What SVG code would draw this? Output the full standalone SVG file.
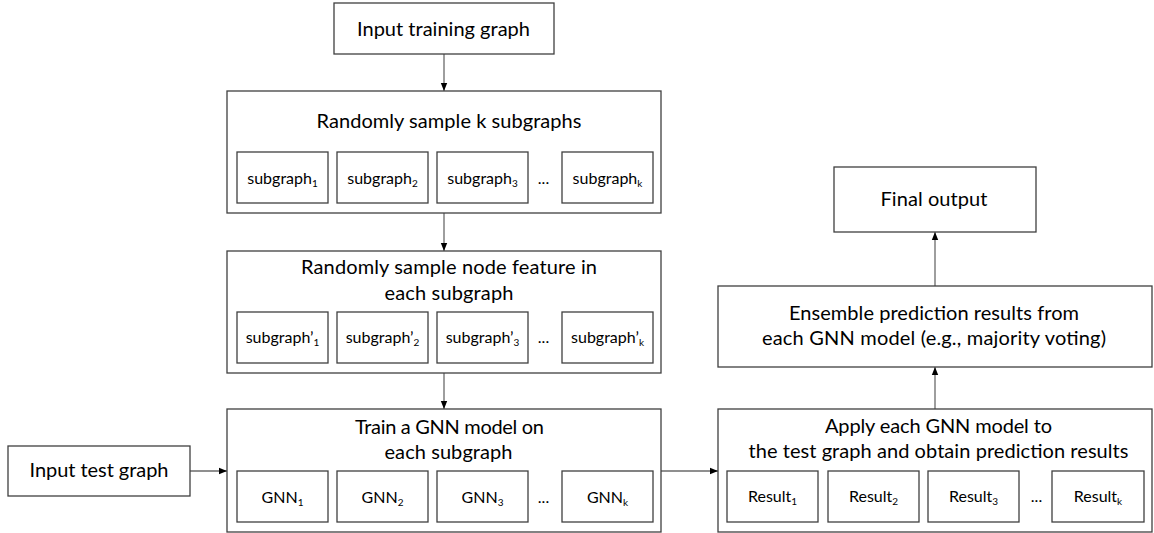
<svg xmlns="http://www.w3.org/2000/svg" width="1154" height="533" viewBox="0 0 1154 533">
<style>
.box{fill:#fff;stroke:#3f3f3f;stroke-width:1.3}
.t{font-family:Lato,"Liberation Sans",sans-serif;font-size:20px;fill:#000;text-anchor:middle}
.s{font-family:Lato,"Liberation Sans",sans-serif;font-size:16px;fill:#000;text-anchor:middle}
.sub{font-size:10px}
.conn{stroke:#6a6a6a;stroke-width:1.3;fill:none;marker-end:url(#ah)}
</style>
<defs>
<marker id="ah" markerUnits="userSpaceOnUse" markerWidth="8" markerHeight="8" viewBox="0 0 8 8" refX="8" refY="4" orient="auto">
<path d="M0,0.8 L8,4 L0,7.2 Z" fill="#000"/>
</marker>
</defs>
<rect width="1154" height="533" fill="#fff"/>

<g id="connectors">
<line class="conn" x1="444" y1="54" x2="444" y2="91"/>
<line class="conn" x1="444" y1="213" x2="444" y2="251"/>
<line class="conn" x1="444" y1="373" x2="444" y2="409"/>
<line class="conn" x1="190" y1="471" x2="227" y2="471"/>
<line class="conn" x1="661" y1="471" x2="718" y2="471"/>
<line class="conn" x1="935" y1="409" x2="935" y2="367"/>
<line class="conn" x1="935" y1="286" x2="935" y2="232"/>
</g>

<g id="input-training">
<rect class="box" x="334" y="3" width="220" height="51"/>
<text class="t" x="443.5" y="36" textLength="173">Input training graph</text>
</g>

<g id="sample-subgraphs">
<rect class="box" x="227" y="91" width="434" height="122"/>
<text class="t" x="449" y="128" textLength="265">Randomly sample k subgraphs</text>
<rect class="box" x="237" y="152" width="91" height="51"/>
<text class="s" x="282.5" y="184">subgraph<tspan class="sub" dy="3">1</tspan></text>
<rect class="box" x="337" y="152" width="91" height="51"/>
<text class="s" x="382.5" y="184">subgraph<tspan class="sub" dy="3">2</tspan></text>
<rect class="box" x="437" y="152" width="91" height="51"/>
<text class="s" x="482.5" y="184">subgraph<tspan class="sub" dy="3">3</tspan></text>
<text class="s" x="543.5" y="184">...</text>
<rect class="box" x="562" y="152" width="91" height="51"/>
<text class="s" x="607.5" y="184">subgraph<tspan class="sub" dy="3">k</tspan></text>
</g>

<g id="sample-features">
<rect class="box" x="227" y="251" width="434" height="122"/>
<text class="t" x="449" y="274" textLength="296">Randomly sample node feature in</text>
<text class="t" x="449" y="300" textLength="129">each subgraph</text>
<rect class="box" x="237" y="312" width="91" height="51"/>
<text class="s" x="282.5" y="343">subgraph’<tspan class="sub" dy="3">1</tspan></text>
<rect class="box" x="337" y="312" width="91" height="51"/>
<text class="s" x="382.5" y="343">subgraph’<tspan class="sub" dy="3">2</tspan></text>
<rect class="box" x="437" y="312" width="91" height="51"/>
<text class="s" x="482.5" y="343">subgraph’<tspan class="sub" dy="3">3</tspan></text>
<text class="s" x="543.5" y="343">...</text>
<rect class="box" x="562" y="312" width="91" height="51"/>
<text class="s" x="607.5" y="343">subgraph’<tspan class="sub" dy="3">k</tspan></text>
</g>

<g id="input-test">
<rect class="box" x="8" y="446" width="182" height="50"/>
<text class="t" x="99" y="477" textLength="139">Input test graph</text>
</g>

<g id="train">
<rect class="box" x="227" y="409" width="434" height="123"/>
<text class="t" x="449.5" y="434" textLength="189">Train a GNN model on</text>
<text class="t" x="448.5" y="459" textLength="128">each subgraph</text>
<rect class="box" x="237" y="471" width="91" height="51"/>
<text class="s" x="282.5" y="503">GNN<tspan class="sub" dy="3">1</tspan></text>
<rect class="box" x="337" y="471" width="91" height="51"/>
<text class="s" x="382.5" y="503">GNN<tspan class="sub" dy="3">2</tspan></text>
<rect class="box" x="437" y="471" width="91" height="51"/>
<text class="s" x="482.5" y="503">GNN<tspan class="sub" dy="3">3</tspan></text>
<text class="s" x="543.5" y="503">...</text>
<rect class="box" x="562" y="471" width="91" height="51"/>
<text class="s" x="607.5" y="503">GNN<tspan class="sub" dy="3">k</tspan></text>
</g>

<g id="apply">
<rect class="box" x="718" y="409" width="434" height="123"/>
<text class="t" x="938.5" y="433" textLength="227">Apply each GNN model to</text>
<text class="t" x="938.5" y="458" textLength="380">the test graph and obtain prediction results</text>
<rect class="box" x="727" y="471" width="91" height="51"/>
<text class="s" x="772.5" y="502">Result<tspan class="sub" dy="3">1</tspan></text>
<rect class="box" x="828" y="471" width="91" height="51"/>
<text class="s" x="873.5" y="502">Result<tspan class="sub" dy="3">2</tspan></text>
<rect class="box" x="928" y="471" width="91" height="51"/>
<text class="s" x="973.5" y="502">Result<tspan class="sub" dy="3">3</tspan></text>
<text class="s" x="1036.5" y="502">...</text>
<rect class="box" x="1052" y="471" width="92" height="51"/>
<text class="s" x="1098" y="502">Result<tspan class="sub" dy="3">k</tspan></text>
</g>

<g id="ensemble">
<rect class="box" x="718" y="286" width="434" height="81"/>
<text class="t" x="934" y="320" textLength="290">Ensemble prediction results from</text>
<text class="t" x="934" y="345" textLength="344">each GNN model (e.g., majority voting)</text>
</g>

<g id="final-output">
<rect class="box" x="834" y="167" width="202" height="65"/>
<text class="t" x="934" y="206" textLength="107">Final output</text>
</g>
</svg>
